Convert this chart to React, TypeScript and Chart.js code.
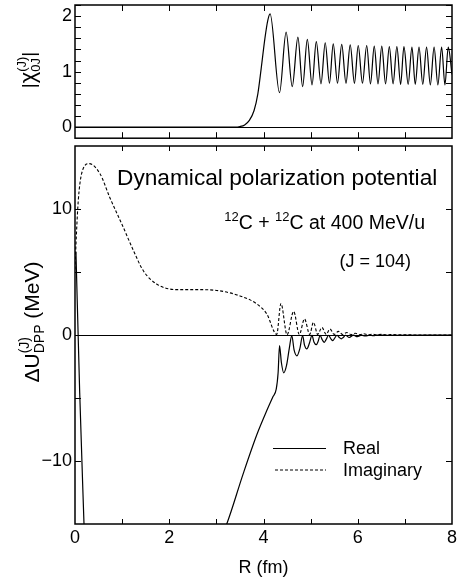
import React, { useEffect, useRef } from 'react';
import { Chart, registerables } from 'chart.js';

Chart.register(...registerables);

const FONT = '"Liberation Sans", Arial, Helvetica, sans-serif';

// ---- top panel: |chi^(J)_0J| ----
const CHI_R = [0, 3.4, 3.5, 3.6, 3.7, 3.8, 3.88, 3.95, 4.03, 4.09, 4.14,
  4.34, 4.48, 4.61, 4.73, 4.83, 4.93, 5.03, 5.12, 5.22, 5.31, 5.4, 5.48, 5.57, 5.66, 5.75, 5.84,
  5.93, 6.01, 6.1, 6.19, 6.27, 6.35, 6.43, 6.51, 6.59, 6.67, 6.75, 6.83, 6.91, 6.98, 7.07, 7.15,
  7.22, 7.3, 7.38, 7.46, 7.54, 7.62, 7.7, 7.78, 7.85, 7.92, 8.0];
const CHI_V = [0, 0, 0.01, 0.04, 0.12, 0.3, 0.6, 1.05, 1.6, 1.92, 2.04,
  0.62, 1.71, 0.73, 1.62, 0.73, 1.58, 0.76, 1.54, 0.78, 1.52, 0.79, 1.5, 0.79, 1.49, 0.79, 1.48,
  0.79, 1.47, 0.79, 1.47, 0.78, 1.46, 0.78, 1.46, 0.78, 1.45, 0.78, 1.45, 0.77, 1.45, 0.77, 1.44,
  0.77, 1.44, 0.77, 1.44, 0.76, 1.44, 0.76, 1.44, 0.76, 1.44, 0.95];

// ---- bottom panel: Delta U^(J)_DPP (MeV) ----
const RE_R = [0.02, 0.1, 0.2, 0.25, 3.1, 3.22, 3.57, 3.86, 4.07,
  4.2, 4.27, 4.31, 4.34, 4.38, 4.43, 4.49, 4.55, 4.6, 4.65, 4.71, 4.77, 4.83, 4.87, 4.92, 4.97,
  5.03, 5.07, 5.12, 5.16, 5.2, 5.25, 5.29, 5.33, 5.38, 5.43, 5.47, 5.51, 5.56, 5.61, 5.65, 5.69,
  5.74, 5.82, 5.91, 5.99, 6.08, 6.16, 6.25, 6.33, 6.42, 6.6, 8];
const RE_V: (number | null)[] = [6.6, -4.6, -16, null, -16, -15, -11, -7.9, -6,
  -4.9, -4.3, -3.0, -0.85, -2.2, -3.0, -2.4, -1.0, -0.05, -1.2, -1.65, -1.1, -0.05, -0.8, -1.1, -0.7,
  -0.03, -0.55, -0.77, -0.5, -0.03, -0.4, -0.58, -0.35, -0.02, -0.3, -0.45, -0.25, -0.02, -0.2, -0.3, -0.2,
  -0.02, -0.2, -0.01, -0.13, -0.01, -0.08, -0.01, -0.05, 0, -0.02, 0];

const IM_R = [0, 0.03, 0.07, 0.14, 0.3, 0.53, 0.74, 1.03, 1.24, 1.45, 1.73, 2.16, 2.65, 3.08, 3.5,
  3.86, 4.07, 4.28, 4.37, 4.5, 4.64, 4.76, 4.87, 4.98, 5.06, 5.15, 5.24, 5.33, 5.41, 5.5,
  5.59, 5.68, 5.77, 5.86, 5.95, 6.04, 6.13, 6.22, 6.31, 6.4, 6.5, 6.6, 6.7, 7, 8];
const IM_V = [5.2, 8, 10.7, 12.8, 13.6, 12.8, 10.9, 8.5, 6.7, 5.1, 4.05, 3.6, 3.6, 3.5, 3.1,
  2.46, 1.67, 0.05, 2.5, 0.02, 1.87, 0.05, 1.27, 0.05, 1.0, 0.05, 0.6, 0.05, 0.48, 0.05,
  0.29, 0.04, 0.2, 0.03, 0.14, 0.02, 0.1, 0.02, 0.07, 0.01, 0.05, 0.01, 0.03, 0.01, 0];

// ---- ticks ----
const X_LABEL_TICKS = [0, 2, 4, 6, 8];
const X_MARK_TICKS = [1, 2, 3, 4, 5, 6, 7];
const CHI_LABEL_TICKS = [0, 1, 2];
const CHI_MARK_TICKS = [0.2, 0.4, 0.6, 0.8, 1, 1.2, 1.4, 1.6, 1.8, 2, 2.2];
const DPP_LABEL_TICKS = [-10, 0, 10];
const DPP_MARK_TICKS = [-10, -5, 5, 10];

const zip = (xs: number[], ys: (number | null)[]) => xs.map((x, i) => ({ x, y: ys[i] }));
const fmt = (v: number) => String(v).replace('-', '\u2212');

// canvas placement (page px)
const TOP_CANVAS_Y = -20;
const TOP_CANVAS_H = 172;
const BOT_CANVAS_Y = 126;
const BOT_CANVAS_H = 580 - BOT_CANVAS_Y;

type Run = { t: string; s: number; dy?: number; keep?: boolean };

function drawRich(ctx: CanvasRenderingContext2D, runs: Run[], x: number, y: number,
  align: 'left' | 'center' | 'right', rotate = false) {
  ctx.save();
  ctx.translate(x, y);
  if (rotate) ctx.rotate(-Math.PI / 2);
  const widths = runs.map((r) => { ctx.font = `${r.s}px ${FONT}`; return ctx.measureText(r.t).width; });
  let total = 0;
  let kw = 0;
  runs.forEach((r, i) => {
    if (r.keep) kw = Math.max(kw, widths[i]);
    else { total += Math.max(kw, widths[i]); kw = 0; }
  });
  let cx = align === 'left' ? 0 : align === 'center' ? -total / 2 : -total;
  ctx.textBaseline = 'alphabetic';
  ctx.textAlign = 'left';
  ctx.fillStyle = '#000';
  kw = 0;
  runs.forEach((r, i) => {
    ctx.font = `${r.s}px ${FONT}`;
    ctx.fillText(r.t, cx, r.dy || 0);
    if (r.keep) kw = Math.max(kw, widths[i]);
    else { cx += Math.max(kw, widths[i]); kw = 0; }
  });
  ctx.restore();
}

function framePlugin(xTicks: number[], yTicks: number[], xLen: number, yLen: number) {
  return {
    id: 'frameTicks',
    beforeDatasetsDraw(chart: any) {
      const { ctx, chartArea: a, scales } = chart;
      const z = Math.round(scales.y.getPixelForValue(0)) + 0.5;
      ctx.save();
      ctx.strokeStyle = '#000';
      ctx.lineWidth = 1.2;
      ctx.beginPath();
      ctx.moveTo(a.left, z);
      ctx.lineTo(a.right, z);
      ctx.stroke();
      ctx.restore();
    },
    afterDatasetsDraw(chart: any) {
      const { ctx, chartArea: a, scales } = chart;
      ctx.save();
      ctx.strokeStyle = '#000';
      ctx.lineWidth = 1;
      ctx.beginPath();
      for (const v of xTicks) {
        const px = Math.round(scales.x.getPixelForValue(v)) + 0.5;
        ctx.moveTo(px, a.bottom); ctx.lineTo(px, a.bottom - xLen);
        ctx.moveTo(px, a.top); ctx.lineTo(px, a.top + xLen);
      }
      for (const v of yTicks) {
        const py = Math.round(scales.y.getPixelForValue(v)) + 0.5;
        ctx.moveTo(a.left, py); ctx.lineTo(a.left + yLen, py);
        ctx.moveTo(a.right, py); ctx.lineTo(a.right - yLen, py);
      }
      ctx.stroke();
      ctx.lineWidth = 1.5;
      ctx.strokeRect(a.left, a.top, a.right - a.left, a.bottom - a.top);
      ctx.restore();
    },
  };
}

const topTextPlugin = {
  id: 'topText',
  afterDraw(chart: any) {
    const ctx = chart.ctx as CanvasRenderingContext2D;
    const oy = -TOP_CANVAS_Y;
    drawRich(ctx, [
      { t: '|', s: 19 },
      { t: '\u03C7', s: 22 },
      { t: '(J)', s: 13, dy: -9, keep: true },
      { t: '0J', s: 13, dy: 5 },
      { t: '|', s: 19 },
    ], 35, 70 + oy, 'center', true);
  },
};

const bottomTextPlugin = {
  id: 'bottomText',
  afterDraw(chart: any) {
    const ctx = chart.ctx as CanvasRenderingContext2D;
    const oy = -BOT_CANVAS_Y;
    // y-axis title
    drawRich(ctx, [
      { t: '\u0394U', s: 21 },
      { t: '(J)', s: 14, dy: -10, keep: true },
      { t: 'DPP', s: 14, dy: 5 },
      { t: ' (MeV)', s: 21 },
    ], 39, 322 + oy, 'center', true);
    // annotations
    drawRich(ctx, [{ t: 'Dynamical polarization potential', s: 22.7 }], 117, 184.5 + oy, 'left');
    drawRich(ctx, [
      { t: '12', s: 13, dy: -8 },
      { t: 'C + ', s: 19.5 },
      { t: '12', s: 13, dy: -8 },
      { t: 'C at 400 MeV/u', s: 19.5 },
    ], 425, 228.5 + oy, 'right');
    drawRich(ctx, [{ t: '(J = 104)', s: 18 }], 411, 266.5 + oy, 'right');
    // legend
    ctx.save();
    ctx.strokeStyle = '#000';
    ctx.lineWidth = 1.1;
    ctx.beginPath();
    ctx.moveTo(273, 448.5 + oy); ctx.lineTo(326, 448.5 + oy);
    ctx.stroke();
    ctx.setLineDash([3, 2]);
    ctx.beginPath();
    ctx.moveTo(275, 470 + oy); ctx.lineTo(326, 470 + oy);
    ctx.stroke();
    ctx.restore();
    drawRich(ctx, [{ t: 'Real', s: 18 }], 343, 454 + oy, 'left');
    drawRich(ctx, [{ t: 'Imaginary', s: 18 }], 343, 476 + oy, 'left');
  },
};

export default function App() {
  const topRef = useRef<HTMLCanvasElement>(null);
  const botRef = useRef<HTMLCanvasElement>(null);

  useEffect(() => {
    const tickFont = { family: FONT, size: 18 };
    const top = new Chart(topRef.current!, {
      type: 'line',
      data: {
        datasets: [{
          data: zip(CHI_R, CHI_V),
          borderColor: '#000',
          borderWidth: 1.2,
          pointRadius: 0,
          cubicInterpolationMode: 'monotone',
        }],
      },
      options: {
        animation: false,
        responsive: false,
        events: [],
        layout: { padding: { top: 5 - TOP_CANVAS_Y, right: 10, bottom: TOP_CANVAS_Y + TOP_CANVAS_H - 140, left: 0 } },
        plugins: { legend: { display: false }, tooltip: { enabled: false } },
        scales: {
          x: { type: 'linear', min: 0, max: 8, display: false },
          y: {
            type: 'linear', min: -0.2, max: 2.2,
            afterBuildTicks: (s: any) => { s.ticks = CHI_LABEL_TICKS.map((v) => ({ value: v })); },
            afterFit: (s: any) => { s.width = 75; },
            grid: { display: false, drawTicks: false },
            border: { display: false },
            ticks: { font: tickFont, color: '#000', padding: 3, callback: (v: any) => fmt(v) },
          },
        },
      },
      plugins: [framePlugin(X_MARK_TICKS, CHI_MARK_TICKS, 6, 6), topTextPlugin],
    } as any);

    const bottom = new Chart(botRef.current!, {
      type: 'line',
      data: {
        datasets: [
          {
            label: 'Real',
            data: zip(RE_R, RE_V),
            borderColor: '#000',
            borderWidth: 1.2,
            pointRadius: 0,
            spanGaps: false,
            cubicInterpolationMode: 'monotone',
          },
          {
            label: 'Imaginary',
            data: zip(IM_R, IM_V),
            borderColor: '#000',
            borderWidth: 1.1,
            borderDash: [3, 2],
            pointRadius: 0,
            cubicInterpolationMode: 'monotone',
          },
        ],
      },
      options: {
        animation: false,
        responsive: false,
        events: [],
        layout: { padding: { top: 146 - BOT_CANVAS_Y, right: 10, bottom: 0, left: 0 } },
        plugins: { legend: { display: false }, tooltip: { enabled: false } },
        scales: {
          x: {
            type: 'linear', min: 0, max: 8,
            afterBuildTicks: (s: any) => { s.ticks = X_LABEL_TICKS.map((v) => ({ value: v })); },
            afterFit: (s: any) => { s.height = 56; },
            grid: { display: false, drawTicks: false },
            border: { display: false },
            ticks: { font: tickFont, color: '#000', padding: 3, maxRotation: 0, autoSkip: false, callback: (v: any) => fmt(v) },
            title: { display: true, text: 'R (fm)', font: tickFont, color: '#000', padding: { top: 0, bottom: 1 } },
          },
          y: {
            type: 'linear', min: -15, max: 15,
            afterBuildTicks: (s: any) => { s.ticks = DPP_LABEL_TICKS.map((v) => ({ value: v })); },
            afterFit: (s: any) => { s.width = 75; },
            grid: { display: false, drawTicks: false },
            border: { display: false },
            ticks: { font: tickFont, color: '#000', padding: 3, callback: (v: any) => fmt(v) },
          },
        },
      },
      plugins: [framePlugin(X_MARK_TICKS, DPP_MARK_TICKS, 5, 6), bottomTextPlugin],
    } as any);

    return () => { top.destroy(); bottom.destroy(); };
  }, []);

  return (
    <div style={{ position: 'fixed', left: 0, top: 0, width: 462, height: 580, background: '#fff', overflow: 'hidden' }}>
      <canvas ref={topRef} width={462} height={TOP_CANVAS_H} style={{ position: 'absolute', left: 0, top: TOP_CANVAS_Y }} />
      <canvas ref={botRef} width={462} height={BOT_CANVAS_H} style={{ position: 'absolute', left: 0, top: BOT_CANVAS_Y }} />
    </div>
  );
}
